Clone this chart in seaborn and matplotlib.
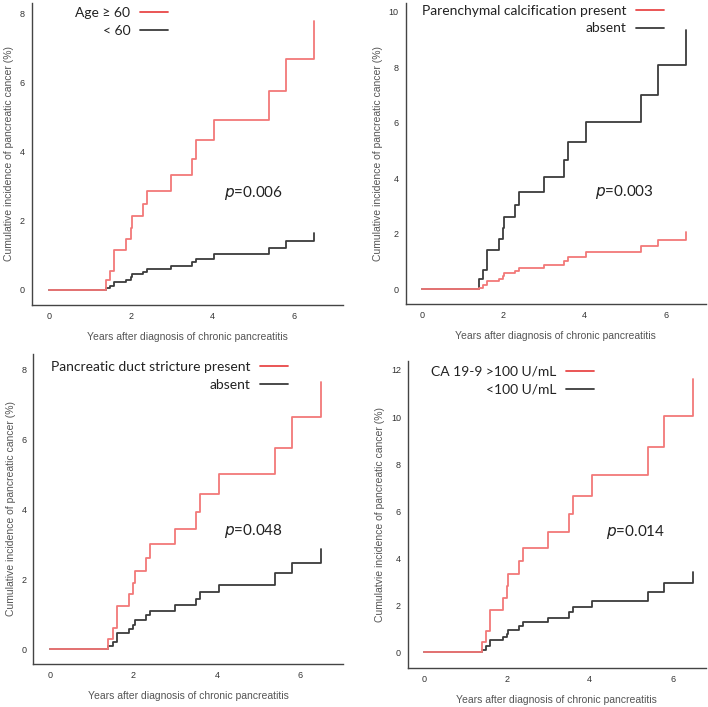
import numpy as np
import pandas as pd
import seaborn as sns
import matplotlib.pyplot as plt

# Common event times (years after diagnosis)
temps = [0, 1.4, 1.5, 1.6, 1.9, 2.0, 2.03, 2.3, 2.4, 3.0, 3.5, 3.6, 4.05, 5.4, 5.8, 6.5]

# Panel 1 : age
age_sup60 = [0, 0.28, 0.55, 1.15, 1.48, 1.8, 2.15, 2.5, 2.88, 3.32, 3.8, 4.33, 4.92, 5.75, 6.68, 7.8]
age_inf60 = [0, 0.05, 0.12, 0.23, 0.3, 0.38, 0.45, 0.52, 0.6, 0.7, 0.8, 0.9, 1.05, 1.22, 1.42, 1.65]

# Panel 2 : calcification
calc_present = [0, 0.05, 0.15, 0.3, 0.38, 0.48, 0.57, 0.65, 0.75, 0.88, 1.0, 1.15, 1.32, 1.55, 1.78, 2.07]
calc_absent = [0, 0.35, 0.7, 1.42, 1.8, 2.2, 2.6, 3.05, 3.5, 4.05, 4.65, 5.3, 6.03, 7.0, 8.07, 9.35]

# Panel 3 : sténose du canal pancréatique
stenose_present = [0, 0.3, 0.6, 1.23, 1.57, 1.9, 2.25, 2.62, 3.0, 3.43, 3.93, 4.43, 5.0, 5.77, 6.63, 7.65]
stenose_absent = [0, 0.1, 0.22, 0.45, 0.58, 0.68, 0.83, 0.97, 1.1, 1.27, 1.45, 1.65, 1.85, 2.17, 2.48, 2.88]

# Panel 4 : CA 19-9
ca_sup100 = [0, 0.45, 0.9, 1.8, 2.3, 2.8, 3.33, 3.88, 4.45, 5.12, 5.87, 6.65, 7.55, 8.73, 10.05, 11.6]
ca_inf100 = [0, 0.12, 0.28, 0.52, 0.65, 0.8, 0.95, 1.1, 1.27, 1.47, 1.7, 1.93, 2.18, 2.55, 2.95, 3.42]

ROUGE = '#f27878'
NOIR = '#3c3c3c'

panneaux = [
    dict(pos=[0.045, 0.569, 0.439, 0.427], rouge=age_sup60, noir=age_inf60,
         lab_r='Age \u2265 60', lab_n='< 60', p='0.006', yticks=[0, 2, 4, 6, 8],
         ylim=(-0.43, 8.32), xlim=(-0.42, 7.2), ppos=(4.28, 2.8),
         ylab='Cumulative incidence of pancreatic cancer (%)', leg=(0.437, 0.985)),
    dict(pos=[0.573, 0.570, 0.424, 0.426], rouge=calc_present, noir=calc_absent,
         lab_r='Parenchymal calcification present', lab_n='absent', p='0.003', yticks=[0, 2, 4, 6, 8, 10],
         ylim=(-0.54, 10.33), xlim=(-0.40, 6.99), ppos=(4.26, 3.5),
         ylab='Cumulative incidence of pancreatic cancer (%)', leg=(0.86, 0.993)),
    dict(pos=[0.047, 0.061, 0.438, 0.439], rouge=stenose_present, noir=stenose_absent,
         lab_r='Pancreatic duct stricture present', lab_n='absent', p='0.048', yticks=[0, 2, 4, 6, 8],
         ylim=(-0.42, 8.46), xlim=(-0.40, 7.03), ppos=(4.16, 3.39),
         ylab='Cumulative incidence of pancreatic cancer (%)', leg=(0.82, 0.975)),
    dict(pos=[0.576, 0.055, 0.421, 0.434], rouge=ca_sup100, noir=ca_inf100,
         lab_r='CA 19-9 >100 U/mL', lab_n='<100 U/mL', p='0.014', yticks=[0, 2, 4, 6, 8, 10, 12],
         ylim=(-0.67, 12.37), xlim=(-0.39, 6.8), ppos=(4.38, 5.1),
         ylab='Cumulatvie incidence of pancreatic cancer (%)', leg=(0.625, 0.985)),
]

sns.set_style('white')
plt.rcParams['font.family'] = ['Liberation Sans', 'DejaVu Sans']

fig = plt.figure(figsize=(7.08, 7.07), dpi=100)

for pan in panneaux:
    ax = fig.add_axes(pan['pos'])
    df = pd.DataFrame({'t': temps + temps,
                       'y': pan['rouge'] + pan['noir'],
                       'groupe': [pan['lab_r']] * len(temps) + [pan['lab_n']] * len(temps)})
    for groupe, couleur in [(pan['lab_n'], NOIR), (pan['lab_r'], ROUGE)]:
        d = df[df['groupe'] == groupe]
        sns.lineplot(x=d['t'], y=d['y'], ax=ax, drawstyle='steps-post', color=couleur,
                     linewidth=1.3, label=groupe, estimator=None, sort=False)

    ax.set_xlim(*pan['xlim'])
    ax.set_ylim(*pan['ylim'])
    ax.set_xticks([0, 2, 4, 6])
    ax.set_yticks(pan['yticks'])
    ax.tick_params(axis='both', labelsize=6.5, length=3, width=0.8, direction='out',
                   color='#444444', labelcolor='#333333', pad=2)
    ax.set_xlabel('Years after diagnosis of chronic pancreatitis', fontsize=7.5, color='#555555', labelpad=8)
    ax.set_ylabel(pan['ylab'], fontsize=7.5, color='#555555', labelpad=4)
    sns.despine(ax=ax)
    for s in ['left', 'bottom']:
        ax.spines[s].set_color('#444444')
        ax.spines[s].set_linewidth(1.0)

    # Légende : texte à gauche, trait à droite
    h, l = ax.get_legend_handles_labels()
    ordre = [l.index(pan['lab_r']), l.index(pan['lab_n'])]
    leg = ax.legend([h[i] for i in ordre], [l[i] for i in ordre], markerfirst=False, frameon=False,
                    loc='upper right', bbox_to_anchor=pan['leg'], handlelength=2.0,
                    labelspacing=0.4, handletextpad=0.7, borderaxespad=0, borderpad=0,
                    prop={'family': 'Lato', 'size': 10})
    leg.get_lines()[0].set_color('#e84848')
    for t in leg.get_texts():
        t.set_color('#222222')

    ax.text(pan['ppos'][0], pan['ppos'][1], '$\\it{p}$=' + pan['p'], fontsize=11,
            family='Lato', color='#222222', va='center')

fig.savefig('out.png', dpi=100)
